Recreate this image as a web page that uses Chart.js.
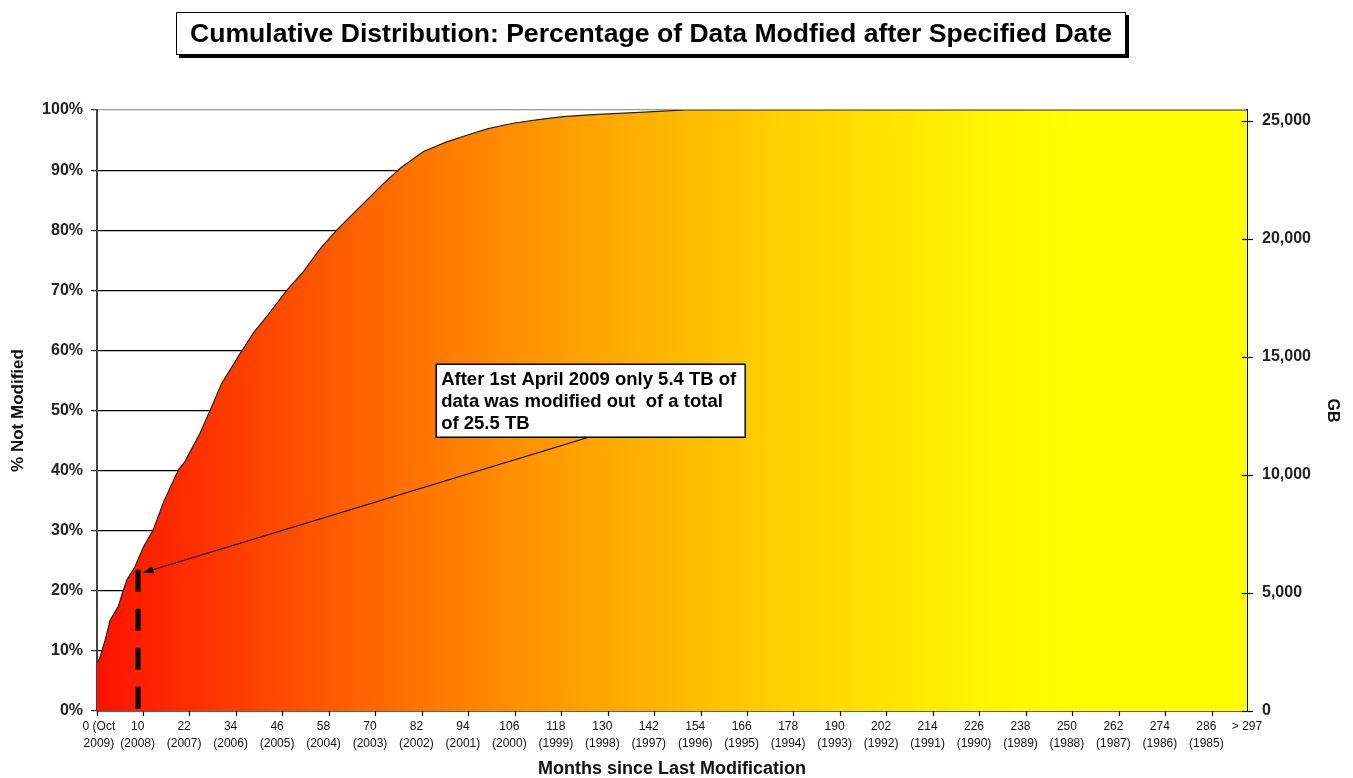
<!DOCTYPE html>
<html>
<head>
<meta charset="utf-8">
<script src="https://cdn.jsdelivr.net/npm/chart.js@4.4.1/dist/chart.umd.min.js"></script>
<style>
  html, body { margin: 0; padding: 0; background: #fff; }
  #wrap { position: relative; width: 1353px; height: 778px; }
  #title {
    position: absolute; left: 176px; top: 12px; width: 948px; height: 41px;
    border: 1px solid #000; box-shadow: 3px 3px 0 #000; background: #fff;
    font: bold 26.6px "Liberation Sans", Arial, sans-serif; color: #000;
    text-align: center; line-height: 41px; white-space: nowrap;
  }
</style>
</head>
<body>
<div id="wrap">
  <canvas id="chart" width="1353" height="778"></canvas>
  <div id="title">Cumulative Distribution: Percentage of Data Modfied after Specified Date</div>
</div>
<script>
// months since last modification
const months = [0, 0.6, 2.1, 3.4, 5.5, 6.8, 7.7, 9.8, 12, 14.5, 17.1, 21, 22.7, 26.6, 29.2,
  32.2, 37, 40.4, 43.8, 49, 53.3, 57.5, 61.9, 67, 73.1, 78.3, 84.3, 90.3, 95.5, 101,
  107.5, 114, 120.4, 127, 133.3, 140, 146, 152, 297];
// cumulative % not modified
const pctNotModified = [8, 8.6, 11.8, 15.1, 17.4, 20.1, 21.8, 24, 27.3, 30.1, 34.6, 40.1, 41.5, 46.2, 50,
  54.5, 59.5, 62.9, 65.6, 70, 73.1, 76.8, 80, 83.3, 87.2, 90.3, 93.1, 94.7, 95.8, 96.9,
  97.8, 98.4, 98.9, 99.2, 99.4, 99.6, 99.8, 100, 100];

const totalGB = 25470;
const gbTicks = [0, 5000, 10000, 15000, 20000, 25000];
const pctTicks = [0, 10, 20, 30, 40, 50, 60, 70, 80, 90, 100];

// x-axis labels (month, year)
const xLabelMonths = [0, 10, 22, 34, 46, 58, 70, 82, 94, 106, 118, 130, 142, 154, 166, 178,
  190, 202, 214, 226, 238, 250, 262, 274, 286];
const xLabelYears = ["2009)", "(2008)", "(2007)", "(2006)", "(2005)", "(2004)", "(2003)", "(2002)",
  "(2001)", "(2000)", "(1999)", "(1998)", "(1997)", "(1996)", "(1995)", "(1994)", "(1993)",
  "(1992)", "(1991)", "(1990)", "(1989)", "(1988)", "(1987)", "(1986)", "(1985)"];
const xLastLabel = "> 297";
const xMax = 297;
const xTickMarks = [0, 12, 24, 36, 48, 60, 72, 84, 96, 108, 120, 132, 144, 156, 168, 180,
  192, 204, 216, 228, 240, 252, 264, 276, 288];

// April 2009 marker
const markerMonth = 10.6;
const markerPct = 23.5;
const noteLines = ["After 1st April 2009 only 5.4 TB of", "data was modified out  of a total", "of 25.5 TB"];

const FONT = '"Liberation Sans", Arial, sans-serif';

const xLabelPos = xLabelMonths.map(m => m + 0.5).concat([xMax]);

function fillGradient(context) {
  const ca = context.chart.chartArea;
  if (!ca) return '#ff8000';
  const g = context.chart.ctx.createLinearGradient(ca.left, 0, ca.right, 0);
  g.addColorStop(0, '#ff1200');
  g.addColorStop(0.25, '#ff6a00');
  g.addColorStop(0.42, '#ffa200');
  g.addColorStop(0.6, '#ffd200');
  g.addColorStop(0.77, '#fff400');
  g.addColorStop(0.85, '#ffff00');
  g.addColorStop(1, '#ffff00');
  return g;
}

const notePlugin = {
  id: 'note',
  afterDatasetsDraw(chart) {
    const { ctx, scales: { x, y, y2 } } = chart;
    ctx.save();
    // GB tick marks reaching into the plot
    ctx.strokeStyle = '#000';
    ctx.lineWidth = 1.2;
    y2.ticks.forEach(t => {
      const py = Math.round(y2.getPixelForValue(t.value)) + 0.5;
      ctx.beginPath();
      ctx.moveTo(y2.left - 5, py);
      ctx.lineTo(y2.left, py);
      ctx.stroke();
    });

    const boxL = x.getPixelForValue(87.6), boxT = y.getPixelForValue(57.7);
    const boxW = 309, boxH = 73;
    const sx = x.getPixelForValue(127), sy = boxT + boxH;
    const tx = x.getPixelForValue(11.9), ty = y.getPixelForValue(23);
    // arrow
    ctx.beginPath();
    ctx.moveTo(sx, sy);
    ctx.lineTo(tx, ty);
    ctx.stroke();
    const ang = Math.atan2(ty - sy, tx - sx);
    ctx.fillStyle = '#000';
    ctx.beginPath();
    ctx.moveTo(tx, ty);
    ctx.lineTo(tx - 11 * Math.cos(ang - 0.35), ty - 11 * Math.sin(ang - 0.35));
    ctx.lineTo(tx - 11 * Math.cos(ang + 0.35), ty - 11 * Math.sin(ang + 0.35));
    ctx.closePath();
    ctx.fill();
    // box
    ctx.fillStyle = '#fff';
    ctx.fillRect(boxL, boxT, boxW, boxH);
    ctx.lineWidth = 1.5;
    ctx.strokeRect(boxL, boxT, boxW, boxH);
    ctx.fillStyle = '#000';
    ctx.font = 'bold 18.5px ' + FONT;
    ctx.textBaseline = 'middle';
    noteLines.forEach((t, i) => ctx.fillText(t, boxL + 5, boxT + 16 + i * 22));
    ctx.restore();
  }
};

new Chart(document.getElementById('chart'), {
  type: 'line',
  data: {
    datasets: [
      {
        data: [{ x: markerMonth, y: markerPct }, { x: markerMonth, y: 0 }],
        borderColor: '#000',
        borderWidth: 5,
        borderDash: [22, 17],
        borderCapStyle: 'butt',
        pointRadius: 0,
        fill: false,
        xAxisID: 'x',
        yAxisID: 'y'
      },
      {
        data: months.map((m, i) => ({ x: m, y: pctNotModified[i] })),
        borderColor: '#222',
        borderWidth: 1.2,
        backgroundColor: fillGradient,
        fill: 'origin',
        pointRadius: 0,
        tension: 0,
        xAxisID: 'x',
        yAxisID: 'y'
      }
    ]
  },
  options: {
    responsive: false,
    devicePixelRatio: 1,
    animation: false,
    layout: { padding: { top: 110, left: 0, right: 0, bottom: 0 } },
    plugins: { legend: { display: false }, tooltip: { enabled: false } },
    scales: {
      xt: {
        type: 'linear', position: 'bottom', min: 0, max: xMax, weight: 0,
        afterBuildTicks: s => { s.ticks = xTickMarks.map(v => ({ value: v })); },
        afterFit: s => { s.height = 6; },
        ticks: { display: false },
        grid: { display: true, drawOnChartArea: false, drawTicks: true, tickLength: 5, tickColor: '#000', tickWidth: 1.2 },
        border: { display: true, color: '#000', width: 1.5 }
      },
      x: {
        type: 'linear', position: 'bottom', min: 0, max: xMax, weight: 1,
        afterBuildTicks: s => { s.ticks = xLabelPos.map(v => ({ value: v })); },
        afterFit: s => { s.height = 61; },
        grid: { display: false, drawTicks: false },
        border: { display: false },
        ticks: {
          autoSkip: false, maxRotation: 0, padding: 1, color: '#111',
          font: { family: FONT, size: 12, lineHeight: 1.4 },
          callback: (v, i) => i < xLabelMonths.length
            ? [i === 0 ? '0 (Oct' : String(xLabelMonths[i]), xLabelYears[i]]
            : xLastLabel
        },
        title: {
          display: true, text: 'Months since Last Modification', color: '#111',
          font: { family: FONT, size: 18, weight: 'bold', lineHeight: 1.0 },
          padding: { top: 0, bottom: 0 }
        }
      },
      y: {
        type: 'linear', position: 'left', min: 0, max: 100,
        afterBuildTicks: s => { s.ticks = pctTicks.map(v => ({ value: v })); },
        afterFit: s => { s.width = 97; },
        grid: {
          color: c => c.tick && c.tick.value === 100 ? '#9a9a9a' : '#000',
          lineWidth: 1.2, tickLength: 6, tickColor: '#333', tickWidth: 1.2
        },
        border: { display: true, color: '#444', width: 2 },
        ticks: {
          padding: 8, color: '#222',
          font: { family: FONT, size: 16, weight: 'bold' },
          callback: v => v + '%'
        },
        title: {
          display: true, text: '% Not Modified', color: '#111',
          font: { family: FONT, size: 17, weight: 'bold', lineHeight: 1.2 },
          padding: { top: 8, bottom: 0 }
        }
      },
      y2: {
        type: 'linear', position: 'right', min: 0, max: totalGB,
        afterBuildTicks: s => { s.ticks = gbTicks.map(v => ({ value: v })); },
        afterFit: s => { s.width = 106; },
        grid: { display: true, drawOnChartArea: false, drawTicks: true, tickLength: 6, tickColor: '#000', tickWidth: 1.2 },
        border: { display: true, color: '#000', width: 2 },
        ticks: {
          padding: 9, color: '#222',
          font: { family: FONT, size: 16, weight: 'bold' },
          callback: v => v.toLocaleString('en-US')
        },
        title: {
          display: true, text: 'GB', color: '#111',
          font: { family: FONT, size: 16, weight: 'bold', lineHeight: 1.2 },
          padding: { top: 11, bottom: 0 }
        }
      }
    }
  },
  plugins: [notePlugin]
});
</script>
</body>
</html>
